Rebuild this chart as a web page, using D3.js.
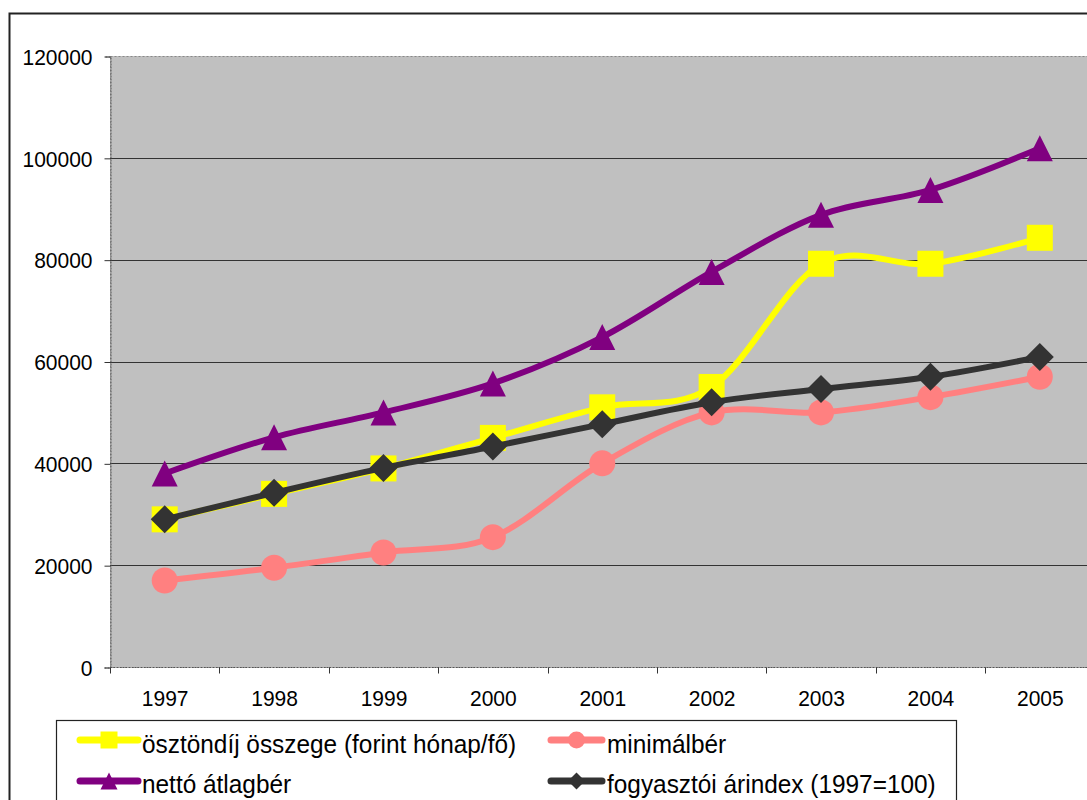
<!DOCTYPE html>
<html><head><meta charset="utf-8">
<script src="https://cdn.jsdelivr.net/npm/d3@7"></script>
<style>body{margin:0;background:#fff;overflow:hidden}svg{display:block}</style>
</head><body>
<script>
const years = ["1997","1998","1999","2000","2001","2002","2003","2004","2005"];
const osztondij = [29000, 34000, 39000, 45000, 51000, 55000, 79200, 79200, 84300];
const minimalber = [17000, 19500, 22500, 25500, 40000, 50000, 50000, 53000, 57000];
const netto = [38000, 45100, 50000, 55700, 64800, 77600, 88800, 93700, 101900];
const fogyasztoi = [29000, 34200, 39100, 43300, 47700, 52000, 54600, 57000, 60900];
const yTicks = [0, 20000, 40000, 60000, 80000, 100000, 120000];
const seriesNames = ["ösztöndíj összege (forint hónap/fő)", "minimálbér", "nettó átlagbér", "fogyasztói árindex (1997=100)"];

(function () {
const W = 1087, H = 800;
const font = "'Liberation Sans', Arial, sans-serif";
const axisFont = 21, legFont = 24.4, sy = 1.06;
const svg = d3.select("body").append("svg").attr("width", W).attr("height", H);
svg.append("rect").attr("width", W).attr("height", H).attr("fill", "#fff");

// outer chart border
svg.append("rect").attr("x", 9.5).attr("y", 13.5).attr("width", 1200).attr("height", 900)
  .attr("fill", "none").attr("stroke", "#222").attr("stroke-width", 2);

const pL = 110, pR = 1094.5, pT = 56, pB = 667;
const x = d3.scaleBand().domain(years).range([pL, pR]);
const y = d3.scaleLinear().domain([0, 120000]).range([pB, pT]);

// plot area
svg.append("rect").attr("x", pL).attr("y", pT).attr("width", pR - pL).attr("height", pB - pT)
  .attr("fill", "#C0C0C0");
svg.append("rect").attr("x", pL + 0.5).attr("y", pT + 0.5).attr("width", pR - pL).attr("height", pB - pT)
  .attr("fill", "none").attr("stroke", "#888").attr("stroke-dasharray", "2,2");

// gridlines
svg.append("g").selectAll("line").data(yTicks.filter(d => d > 0 && d < 120000)).join("line")
  .attr("x1", pL).attr("x2", pR)
  .attr("y1", d => Math.round(y(d)) + 0.5).attr("y2", d => Math.round(y(d)) + 0.5)
  .attr("stroke", "#333").attr("stroke-width", 1);

// y axis
const yAxis = d3.axisLeft(y).tickValues(yTicks).tickSize(6).tickPadding(12).tickFormat(d3.format("d"));
const gy = svg.append("g").attr("transform", `translate(${pL + 0.5},0.5)`).call(yAxis);
gy.select(".domain").attr("stroke", "#555").attr("stroke-dasharray", "2,1");
gy.selectAll(".tick line").attr("stroke", "#333");
gy.selectAll("text").attr("font-family", font).attr("font-size", axisFont).attr("fill", "#000")
  .attr("dy", null).attr("y", 0).attr("dominant-baseline", "central")
  .attr("transform", `scale(1,${sy})`);

// x axis
const gx = svg.append("g").attr("transform", `translate(0.5,${pB + 0.5})`);
gx.append("line").attr("x1", pL).attr("x2", pR).attr("stroke", "#555").attr("stroke-dasharray", "2,1");
const bounds = years.map(d => x(d)).concat([pR]);
gx.selectAll("line.tk").data(bounds).join("line").attr("class", "tk")
  .attr("x1", d => Math.round(d)).attr("x2", d => Math.round(d)).attr("y1", 0).attr("y2", 6).attr("stroke", "#333");
gx.selectAll("text").data(years).join("text")
  .attr("transform", d => `translate(${x(d) + x.bandwidth() / 2},38) scale(1,${sy})`)
  .attr("text-anchor", "middle").attr("font-family", font).attr("font-size", axisFont).attr("fill", "#000")
  .text(d => d);

const cx = (d, i) => x(years[i]) + x.bandwidth() / 2;
const line = d3.line().x(cx).y(d => y(d)).curve(d3.curveCardinal.tension(0));

const series = [
  {name: seriesNames[0], data: osztondij, color: "#FFFF00", marker: "square"},
  {name: seriesNames[1], data: minimalber, color: "#FF8080", marker: "circle"},
  {name: seriesNames[2], data: netto, color: "#800080", marker: "triangle"},
  {name: seriesNames[3], data: fogyasztoi, color: "#333333", marker: "diamond"}
];

function markerPath(type, s) {
  const h = s / 2;
  if (type === "square") return `M${-h},${-h}H${h}V${h}H${-h}Z`;
  if (type === "triangle") return `M0,${-h}L${h},${h}L${-h},${h}Z`;
  if (type === "diamond") return `M0,${-h}L${h},0L0,${h}L${-h},0Z`;
  return d3.arc()({innerRadius: 0, outerRadius: h, startAngle: 0, endAngle: 2 * Math.PI});
}

series.forEach(s => {
  const g = svg.append("g");
  g.append("path").attr("d", line(s.data)).attr("fill", "none").attr("stroke", s.color)
    .attr("stroke-width", 6).attr("stroke-linejoin", "round").attr("stroke-linecap", "round");
  g.selectAll("path.m").data(s.data).join("path").attr("class", "m")
    .attr("transform", (d, i) => `translate(${cx(d, i)},${y(d)})`)
    .attr("d", markerPath(s.marker, s.marker === "diamond" ? 28 : 26)).attr("fill", s.color);
});

// legend
svg.append("rect").attr("x", 56.5).attr("y", 720.5).attr("width", 900).attr("height", 100)
  .attr("fill", "#fff").attr("stroke", "#222").attr("stroke-width", 1.2);
const legPos = [
  {x1: 80, x2: 138, tx: 142, cy: 740, by: 753},
  {x1: 551, x2: 602, tx: 607, cy: 740, by: 753},
  {x1: 80, x2: 138, tx: 142, cy: 781, by: 793},
  {x1: 551, x2: 602, tx: 607, cy: 781, by: 793}
];
series.forEach((s, i) => {
  const p = legPos[i];
  const g = svg.append("g");
  g.append("line").attr("x1", p.x1).attr("x2", p.x2).attr("y1", p.cy).attr("y2", p.cy)
    .attr("stroke", s.color).attr("stroke-width", 7).attr("stroke-linecap", "round");
  g.append("path").attr("transform", `translate(${(p.x1 + p.x2) / 2},${p.cy})`)
    .attr("d", markerPath(s.marker, 17)).attr("fill", s.color);
  g.append("text").attr("transform", `translate(${p.tx},${p.by}) scale(1,${sy})`)
    .attr("font-family", font).attr("font-size", legFont).attr("fill", "#000").text(s.name);
});
})();
</script>
</body></html>
